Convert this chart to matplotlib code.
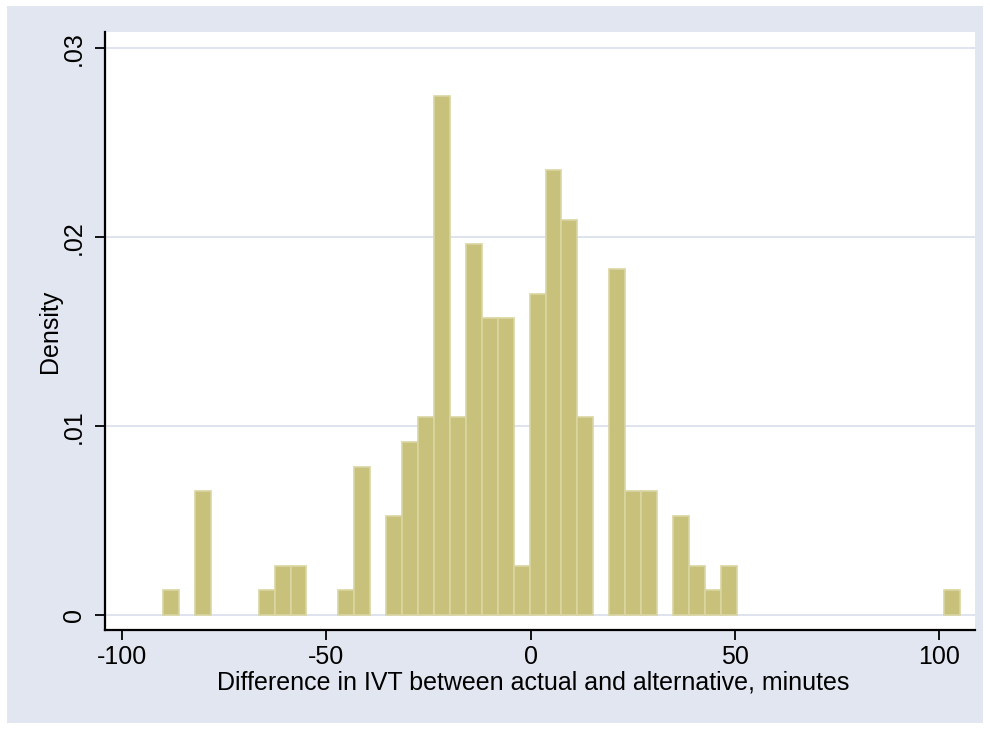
import matplotlib
matplotlib.use("Agg")
import matplotlib.pyplot as plt
from matplotlib.patches import Rectangle

plt.rcParams['font.family'] = ['Liberation Sans', 'DejaVu Sans']

# histogram: 50 bins of width 3.9 starting at -90
bin_start = -90.0
bin_width = 3.9
density = [
    0.00131, 0, 0.00654, 0, 0, 0, 0.00131, 0.00262, 0.00262, 0,
    0, 0.00131, 0.00785, 0, 0.00523, 0.00916, 0.01046, 0.02747, 0.01046, 0.01962,
    0.0157, 0.0157, 0.00262, 0.01701, 0.02355, 0.02093, 0.01046, 0, 0.01831, 0.00654,
    0.00654, 0, 0.00523, 0.00262, 0.00131, 0.00262, 0, 0, 0, 0,
    0, 0, 0, 0, 0, 0, 0, 0, 0, 0.00131,
]
bin_left = [bin_start + i * bin_width for i in range(len(density))]

x_ticks = [-100, -50, 0, 50, 100]
y_ticks = [0, 0.01, 0.02, 0.03]
y_ticklabels = ['0', '.01', '.02', '.03']

bg = '#E2E6F0'
fill = '#C8C17C'
edge = '#DAD5A2'
grid_col = '#DCE1EC'

fig = plt.figure(figsize=(9.9, 7.3), dpi=100)
fig.patch.set_facecolor('white')
fig.patches.append(Rectangle((7 / 990, 7 / 730), 976 / 990, 717 / 730,
                             transform=fig.transFigure, facecolor=bg,
                             edgecolor='none', zorder=-10))

ax = fig.add_axes([105 / 990, 1 - 630 / 730, 870 / 990, 598 / 730])
ax.set_facecolor('white')

# empty bins are not drawn
xs = [x for x, d in zip(bin_left, density) if d > 0]
hs = [d for d in density if d > 0]
ax.bar(xs, hs, width=bin_width, align='edge', color=fill,
       edgecolor=edge, linewidth=1.2, zorder=3)

ax.set_xlim(-104.2, 108.7)
ax.set_ylim(-0.000794, 0.03087)

for yv in y_ticks:
    ax.axhline(yv, color=grid_col, lw=1.3, zorder=1)

ax.set_xticks(x_ticks)
ax.set_xticklabels([str(v) for v in x_ticks])
ax.set_yticks(y_ticks)
ax.set_yticklabels(y_ticklabels, rotation=90, va='center')

for s in ['top', 'right']:
    ax.spines[s].set_visible(False)
for s in ['left', 'bottom']:
    ax.spines[s].set_linewidth(1.6)
    ax.spines[s].set_color('black')

ax.tick_params(axis='both', direction='out', length=7, width=1.3,
               labelsize=18, color='black')
ax.tick_params(axis='x', pad=4)
ax.tick_params(axis='y', pad=7)

ax.set_xlabel('Difference in IVT between actual and alternative, minutes',
              fontsize=18)
ax.xaxis.set_label_coords(0.492, -0.068, transform=ax.transAxes)
ax.xaxis.label.set_va('top')
ax.set_ylabel('Density', fontsize=18, labelpad=0)

fig.savefig('out.png', dpi=100, facecolor=fig.get_facecolor())
